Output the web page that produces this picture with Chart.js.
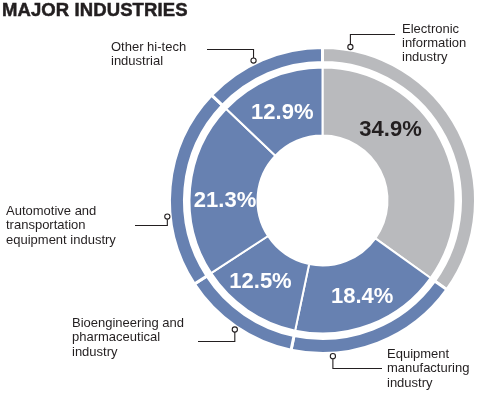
<!DOCTYPE html>
<html>
<head>
<meta charset="utf-8">
<script src="https://cdn.jsdelivr.net/npm/chart.js@4/dist/chart.umd.min.js"></script>
<style>
  html, body { margin: 0; padding: 0; background: #fff; }
  #wrap { position: relative; width: 500px; height: 394px; overflow: hidden; }
  #c { position: absolute; left: 0; top: 0; }
  .title { position: absolute; left: 2px; top: 1px; font: bold 18.5px "Liberation Sans", Arial, sans-serif; line-height: 18.5px; color: #231f20; letter-spacing: 0.1px; -webkit-text-stroke: 0.5px #231f20; white-space: nowrap; }
  .lbl { position: absolute; font: 13px "Liberation Sans", Arial, sans-serif; line-height: 14.3px; color: #231f20; white-space: nowrap; }
</style>
</head>
<body>
<div id="wrap">
  <canvas id="c" width="500" height="394"></canvas>
  <div class="title">MAJOR INDUSTRIES</div>
</div>
<script>
// ---- data ----
const categories = [
  'Electronic information industry',
  'Equipment manufacturing industry',
  'Bioengineering and pharmaceutical industry',
  'Automotive and transportation equipment industry',
  'Other hi-tech industrial'
];
const labelLines = [
  ['Electronic', 'information', 'industry'],
  ['Equipment', 'manufacturing', 'industry'],
  ['Bioengineering and', 'pharmaceutical', 'industry'],
  ['Automotive and', 'transportation', 'equipment industry'],
  ['Other hi-tech', 'industrial']
];
const shares = [34.9, 18.4, 12.5, 21.3, 12.9];
const shareLabels = shares.map(v => v.toFixed(1) + '%');

// ---- styles ----
const BLUE = '#6781b1';
const GREY = '#b9babd';
const sliceColors = [GREY, BLUE, BLUE, BLUE, BLUE];
const pctColors = ['#231f20', '#ffffff', '#ffffff', '#ffffff', '#ffffff'];

// callout layout (annotation placement, not data)
const callouts = [
  { t: 0.082, textX: 402, textY: 21.5, elbowY: 34.5, endX: 395 },
  { t: 0.763, textX: 387, textY: 347, elbowY: 368.5, endX: 382 },
  { t: 0.496, textX: 72, textY: 316, elbowY: 341.5, endX: 198 },
  { t: 0.355, textX: 6, textY: 204, elbowY: 225.5, endX: 135 },
  { t: 0.435, textX: 111, textY: 40, elbowY: 49.5, endX: 207 }
];
const pctAngleShift = [-19.4, -1.5, 3.5, -4.5, -1.0];
const pctRadiusShift = [0, 3.5, 2, -1.5, -1];

const wrap = document.getElementById('wrap');
labelLines.forEach((lines, i) => {
  const d = document.createElement('div');
  d.className = 'lbl';
  d.style.left = callouts[i].textX + 'px';
  d.style.top = callouts[i].textY + 'px';
  d.innerHTML = lines.join('<br>');
  wrap.appendChild(d);
});

const overlay = {
  id: 'overlay',
  afterDatasetsDraw(chart) {
    const ctx = chart.ctx;
    const outerMeta = chart.getDatasetMeta(0);
    const innerMeta = chart.getDatasetMeta(2);
    // percentage labels
    innerMeta.data.forEach((arc, i) => {
      const p = arc.getProps(['x', 'y', 'startAngle', 'endAngle', 'innerRadius', 'outerRadius'], true);
      const mid = (p.startAngle + p.endAngle) / 2 + pctAngleShift[i] * Math.PI / 180;
      const r = (p.innerRadius + p.outerRadius) / 2 + pctRadiusShift[i];
      const cx = p.x + r * Math.cos(mid);
      const cy = p.y + r * Math.sin(mid);
      const fs = 22;
      ctx.save();
      ctx.font = 'bold ' + fs + 'px "Liberation Sans", Arial, sans-serif';
      ctx.fillStyle = pctColors[i];
      ctx.textAlign = 'center';
      ctx.textBaseline = 'alphabetic';
      ctx.fillText(shareLabels[i], cx, cy + 0.358 * fs);
      ctx.restore();
    });
    // callout leader lines
    outerMeta.data.forEach((arc, i) => {
      const p = arc.getProps(['x', 'y', 'startAngle', 'endAngle', 'outerRadius'], true);
      const c = callouts[i];
      const a = p.startAngle + c.t * (p.endAngle - p.startAngle);
      const r = p.outerRadius + 3;
      const px = p.x + r * Math.cos(a);
      const py = p.y + r * Math.sin(a);
      const cr = 2.6;
      ctx.save();
      ctx.strokeStyle = '#231f20';
      ctx.lineWidth = 1.1;
      ctx.beginPath();
      const dir = c.elbowY > py ? 1 : -1;
      ctx.moveTo(px, py + dir * cr);
      ctx.lineTo(px, c.elbowY);
      ctx.lineTo(c.endX, c.elbowY);
      ctx.stroke();
      ctx.beginPath();
      ctx.arc(px, py, cr, 0, Math.PI * 2);
      ctx.fillStyle = '#fff';
      ctx.fill();
      ctx.stroke();
      ctx.restore();
    });
  }
};

new Chart(document.getElementById('c'), {
  type: 'doughnut',
  data: {
    labels: categories,
    datasets: [
      { data: shares, backgroundColor: sliceColors, borderColor: '#fff', borderWidth: 3, weight: 15 },
      { data: shares, backgroundColor: 'rgba(0,0,0,0)', borderWidth: 0, weight: 5 },
      { data: shares, backgroundColor: sliceColors, borderColor: '#fff', borderWidth: 2, weight: 68 }
    ]
  },
  options: {
    responsive: false,
    animation: false,
    events: [],
    cutout: 65,
    layout: { padding: { left: 168, right: 23, top: 46, bottom: 39 } },
    plugins: {
      legend: { display: false },
      tooltip: { enabled: false },
      title: { display: false }
    }
  },
  plugins: [overlay]
});
</script>
</body>
</html>
